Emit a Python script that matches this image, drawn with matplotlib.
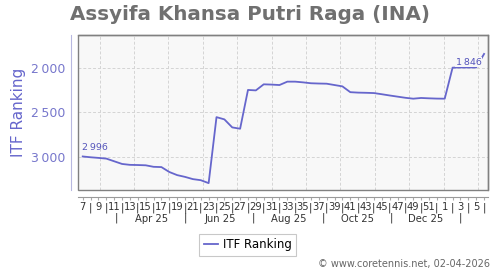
import matplotlib
matplotlib.use("Agg")
import matplotlib.pyplot as plt
import matplotlib.transforms as mtransforms
import numpy as np

# weekly ITF ranking, first point = week 7 of 2025
start_date = np.datetime64("2025-02-14")
ranking = [
    2996, 3005, 3012, 3020, 3050, 3080, 3090, 3092, 3095, 3112,
    3115, 3170, 3205, 3225, 3250, 3262, 3295, 2555, 2580, 2670,
    2685, 2250, 2255, 2187, 2190, 2195, 2157, 2157, 2165, 2175,
    2178, 2180, 2195, 2210, 2275, 2280, 2282, 2285, 2298, 2312,
    2325, 2338, 2348, 2340, 2344, 2347, 2348, 2000, 1998, 1998,
    1998, 1846,
]
first_week = 7
month_starts = ["2025-03-01", "2025-04-01", "2025-05-01", "2025-06-01",
                "2025-07-01", "2025-08-01", "2025-09-01", "2025-10-01",
                "2025-11-01", "2025-12-01", "2026-01-01", "2026-02-01"]
month_labels = ["Apr 25", "Jun 25", "Aug 25", "Oct 25", "Dec 25"]
month_label_dates = ["2025-04-16", "2025-06-16", "2025-08-16",
                     "2025-10-16", "2025-12-16"]
month_sep_dates = ["2025-03-16", "2025-05-16", "2025-07-16",
                   "2025-09-16", "2025-11-16", "2026-01-16"]
yticks = [2000, 2500, 3000]

LINE = "#6666cc"
TICK_BLUE = "#7777cc"


def days(d):
    return float((np.datetime64(d) - start_date) / np.timedelta64(1, "D"))


x = np.arange(len(ranking)) * 7.0
y = np.array(ranking)

fig = plt.figure(figsize=(5, 2.7), dpi=100)
ax = fig.add_axes([0.156, 0.2963, 0.82, 0.5737])
ax.set_facecolor("#f8f8f8")

ax.plot(x, y, color=LINE, lw=1.3, zorder=3)

ax.set_xlim(-4.2, 360.5)
ax.set_ylim(3372, 1635)

# grid
for d in month_starts:
    ax.axvline(days(d), color="#d4d4d4", lw=0.7, ls=(0, (3, 2)), zorder=1)
for v in yticks:
    ax.axhline(v, color="#d4d4d4", lw=0.7, ls=(0, (3, 2)), zorder=1)

# frame + detached axes
for side in ["top", "right"]:
    ax.spines[side].set_color("#808080")
    ax.spines[side].set_linewidth(1.0)
ax.spines["left"].set_position(("outward", 5))
ax.spines["left"].set_color("#b8b8e0")
ax.spines["bottom"].set_position(("outward", 5))
ax.spines["bottom"].set_color("#999999")
ax.add_patch(plt.Rectangle((0, 0), 1, 1, transform=ax.transAxes, fill=False,
                           edgecolor="#808080", lw=1.0, zorder=4, clip_on=False))

ax.set_yticks(yticks)
ax.set_yticklabels([f"{v:,}".replace(",", "\u2009") for v in yticks],
                   color=TICK_BLUE, fontsize=9)
ax.tick_params(axis="y", length=0, pad=4)

# week labels at even weeks, "|" at odd ones
week_labels = []
for i in range(len(ranking)):
    wk = first_week + i
    if wk > 52:
        wk -= 52
    week_labels.append(str(wk) if i % 2 == 0 else "|")
ax.set_xticks(x)
ax.set_xticklabels(week_labels, fontsize=7.2, color="#333333")
ax.tick_params(axis="x", length=2, pad=2, color="#aaaaaa")

# month row
trans = mtransforms.blended_transform_factory(ax.transData, ax.transAxes)
for d, lab in zip(month_label_dates, month_labels):
    ax.text(days(d), -0.185, lab, transform=trans, ha="center", va="center",
            fontsize=7.2, color="#333333")
for d in month_sep_dates:
    ax.text(days(d), -0.18, "|", transform=trans, ha="center", va="center",
            fontsize=7.2, color="#333333")

# first / last value labels
ax.text(x[0] - 1, y[0] - 45, f"{ranking[0]:,}".replace(",", "\u2009"),
        ha="left", va="bottom", fontsize=6.8, color="#5555bb", zorder=5)
ax.text(x[-1] - 2, y[-1] + 95, f"{ranking[-1]:,}".replace(",", "\u2009"),
        ha="right", va="center", fontsize=6.8, color="#5555bb", zorder=5,
        bbox=dict(boxstyle="square,pad=0.05", fc="#f8f8f8", ec="none"))

ax.set_ylabel("ITF Ranking", color=LINE, fontsize=11, labelpad=4)

fig.text(0.5, 0.948, "Assyifa Khansa Putri Raga (INA)", ha="center",
         va="center", fontsize=14.3, fontweight="bold", color="#707070")

leg = fig.legend(handles=ax.lines[:1], labels=["ITF Ranking"], loc="center",
                 bbox_to_anchor=(0.495, 0.093), fontsize=8.5, frameon=True,
                 fancybox=False, handlelength=1.2, handletextpad=0.4,
                 borderpad=0.35)
leg.get_frame().set_edgecolor("#bbbbbb")
leg.get_frame().set_linewidth(0.8)

fig.text(0.98, 0.022, "\u00a9 www.coretennis.net, 02-04-2026", ha="right",
         va="center", fontsize=7, color="#666666")

fig.savefig("out.png", dpi=100)
